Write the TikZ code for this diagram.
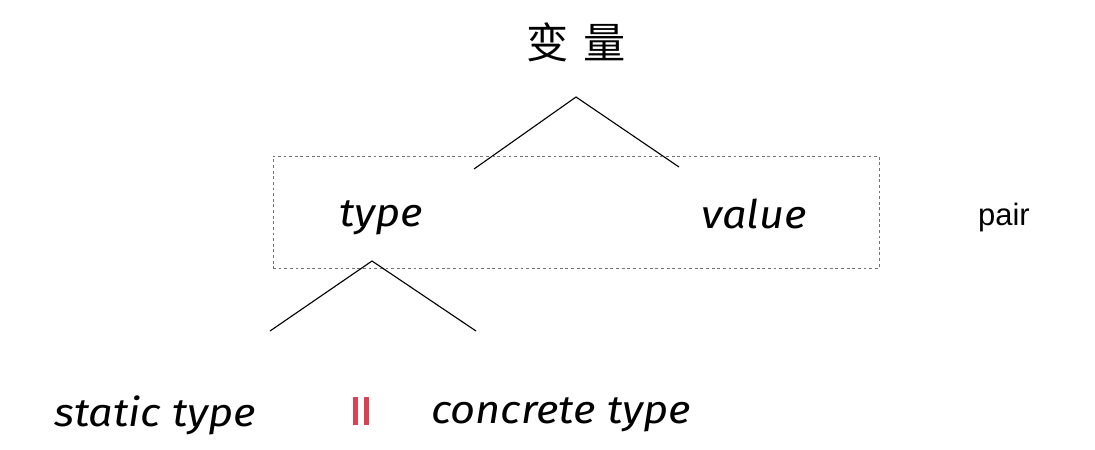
\documentclass[tikz,border=0pt]{standalone}
\usepackage{fontspec}
\setmainfont{Liberation Sans}
\newfontfamily\cjk{Noto Sans CJK SC}
\newfontfamily\handfont[FakeStretch=1.1]{Fira Sans}
\definecolor{barred}{RGB}{216,66,82}
\begin{document}
\begin{tikzpicture}[x=0.025cm, y=-0.025cm,
		word/.style={draw=none, inner sep=0pt, font=\handfont\itshape\fontsize{28}{32}\selectfont},
		title/.style={draw=none, inner sep=0pt, font=\cjk\fontsize{30}{34}\selectfont},
		branch/.style={line width=0.8pt},
		group/.style={draw=black!55, line width=0.6pt, dash pattern=on 2pt off 2pt}]
	\useasboundingbox (0,0) rectangle (1095,449);

	% ===== variable =====
	\node[title] (var) at (576,42) {变\hspace{0.35em}量};
	\coordinate (top) at (576,97);
	\coordinate (tl) at (474,169);
	\coordinate (tr) at (679,167);
	\draw[branch] (tl) -- (top) -- (tr);

	% ===== type / value pair =====
	\node[group, minimum width=606*0.025cm, minimum height=112*0.025cm] (box) at (576,212) {};
	\node[word] (type) at (381,218) {type};
	\node[word] (value) at (754,214) {value};
	\node[draw=none, inner sep=0pt, font=\fontsize{22}{26}\selectfont] (pair) at (1004,217) {pair};

	% ===== kinds of type =====
	\coordinate (mid) at (372,261);
	\coordinate (bl) at (270,331);
	\coordinate (br) at (476,331);
	\draw[branch] (bl) -- (mid) -- (br);

	\node[word] (static) at (155,415) {static type};
	\node[draw=none, inner sep=0pt, text=barred] (sep) at (361,411)
		{\rule{0.12cm}{0.72cm}\hspace{0.15cm}\rule{0.12cm}{0.72cm}};
	\node[word] (concrete) at (561,415) {concrete type};
\end{tikzpicture}
\end{document}
